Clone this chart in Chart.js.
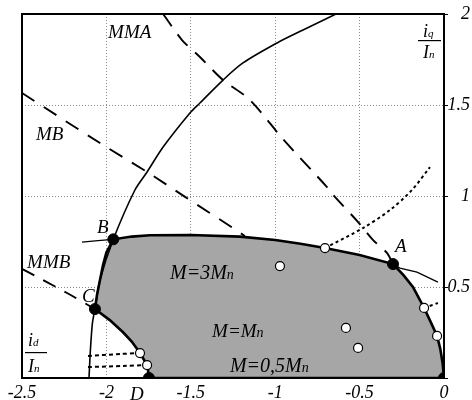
<!DOCTYPE html>
<html>
<head>
<meta charset="utf-8">
<script src="https://cdn.jsdelivr.net/npm/chart.js@4/dist/chart.umd.min.js"></script>
<style>
  html, body { margin: 0; padding: 0; background: #fff; }
  #wrap { width: 472px; height: 400px; }
</style>
</head>
<body>
<div id="wrap"><canvas id="chart"></canvas></div>
<script>
// x ticks (id / In) and y ticks (iq / In)
const xTicks = [-2.5, -2, -1.5, -1, -0.5, 0];
const yTicks = [0.5, 1, 1.5, 2];

// operating region boundary D -> C -> B -> A -> 0 -> D
const regionEdge = [
  [-1.748, 0], [-1.752, 0.035], [-1.759, 0.071], [-1.801, 0.137], [-1.85, 0.20], [-1.90, 0.25],
  [-1.98, 0.318], [-2.068, 0.379],
  [-2.055, 0.46], [-2.038, 0.538], [-2.02, 0.62], [-2.00, 0.69], [-1.959, 0.762],
  [-1.85, 0.777], [-1.742, 0.784], [-1.50, 0.786], [-1.209, 0.777], [-1.0, 0.758],
  [-0.85, 0.738], [-0.705, 0.714], [-0.5, 0.676], [-0.302, 0.626],
  [-0.24, 0.565], [-0.184, 0.50], [-0.118, 0.385], [-0.075, 0.30], [-0.041, 0.231],
  [-0.022, 0.16], [-0.008, 0.08], [0, 0],
  [-1.748, 0]
];
// voltage limit (solid thin)
const voltageLimit = [
  [-2.103, 0], [-2.095, 0.15], [-2.083, 0.30], [-2.068, 0.379], [-2.038, 0.538],
  [-1.959, 0.762], [-1.831, 1.033], [-1.759, 1.132], [-1.664, 1.269], [-1.505, 1.456],
  [-1.446, 1.511], [-1.309, 1.637], [-1.191, 1.731], [-0.989, 1.841], [-0.835, 1.912],
  [-0.640, 2.0]
];
const torqueLeftB = [[-2.145, 0.747], [-2.05, 0.755], [-1.959, 0.762]];
const torqueRightA = [[-0.302, 0.626], [-0.261, 0.604], [-0.160, 0.582], [-0.036, 0.527]];
const curveMMA = [
  [-1.664, 2.0], [-1.552, 1.857], [-1.446, 1.764], [-1.309, 1.637], [-1.149, 1.527],
  [-0.954, 1.313], [-0.693, 1.049], [-0.656, 1.005], [-0.509, 0.857], [-0.42, 0.758],
  [-0.338, 0.687], [-0.302, 0.626]
];
const curveMB = [
  [-2.5, 1.566], [-2.038, 1.291], [-1.759, 1.132], [-1.534, 0.995], [-1.25, 0.824],
  [-1.18, 0.78]
];
const curveMMB = [[-2.5, 0.60], [-2.233, 0.467], [-2.068, 0.379]];
const dottedUpper = [[-0.705, 0.714], [-0.48, 0.824], [-0.32, 0.923], [-0.19, 1.033], [-0.083, 1.159]];
const dottedRight = [[-0.118, 0.385], [-0.036, 0.412]];
const dashedLowA = [[-2.109, 0.121], [-1.919, 0.132], [-1.801, 0.137]];
const dashedLowB = [[-2.109, 0.060], [-1.90, 0.066], [-1.759, 0.071]];
// marked points
const blackPoints = [[-1.959, 0.762], [-2.068, 0.379], [-0.302, 0.626], [-1.748, 0], [0, 0]];
const whitePoints = [
  [-0.972, 0.615], [-0.581, 0.275], [-0.509, 0.165], [-0.705, 0.714],
  [-0.118, 0.385], [-0.041, 0.231], [-1.801, 0.137], [-1.759, 0.071]
];

const pts = a => a.map(p => ({ x: p[0], y: p[1] }));
const serif = "'Liberation Serif', 'Times New Roman', serif";

function line(data, width, dash, tension) {
  return {
    data: pts(data), showLine: true, fill: false, pointRadius: 0,
    borderColor: '#000', borderWidth: width, borderDash: dash || [],
    tension: tension === undefined ? 0.3 : tension, order: 2
  };
}

// text labels on the plot
const labelsPlugin = {
  id: 'labels',
  afterDatasetsDraw(chart) {
    const c = chart.ctx, xs = chart.scales.x, ys = chart.scales.y;
    c.save();
    c.fillStyle = '#000';
    c.textBaseline = 'alphabetic';
    function txt(s, x, y, size) {
      c.font = 'italic ' + (size || 19) + 'px ' + serif;
      c.fillText(s, x, y);
      return c.measureText(s).width;
    }
    function sub(main, s, x, y, size, subSize) {
      const w = txt(main, x, y, size);
      txt(s, x + w, y, subSize || 14);
    }
    const X = v => xs.getPixelForValue(v), Y = v => ys.getPixelForValue(v);
    txt('MMA', X(-1.99), Y(1.868));
    txt('MB', X(-2.417), Y(1.308));
    txt('MMB', X(-2.47), Y(0.604));
    txt('B', X(-2.056), Y(0.797));
    txt('C', X(-2.145), Y(0.418));
    txt('A', X(-0.29), Y(0.692));
    txt('D', X(-1.86), Y(-0.12));
    sub('M=3M', 'n', X(-1.623), Y(0.544), 20);
    sub('M=M', 'n', X(-1.374), Y(0.225), 19);
    sub('M=0,5M', 'n', X(-1.268), Y(0.033), 20);
    // iq / In
    sub('i', 'q', 423, 37, 18, 11);
    c.fillRect(418, 40, 23, 1.2);
    sub('I', 'n', 423, 58, 18, 11);
    // id / In
    sub('i', 'd', 28, 346, 18, 11);
    c.fillRect(25, 352, 22, 1.2);
    sub('I', 'n', 28, 372, 18, 11);
    c.restore();
  }
};

// plot frame
const framePlugin = {
  id: 'frame',
  beforeDatasetsDraw(chart) {
    const a = chart.chartArea, c = chart.ctx;
    c.save();
    c.strokeStyle = '#000';
    c.lineWidth = 2;
    c.strokeRect(a.left, a.top, a.right - a.left, a.bottom - a.top);
    c.restore();
  }
};

new Chart(document.getElementById('chart'), {
  type: 'scatter',
  data: {
    datasets: [
      {
        data: pts(regionEdge), showLine: true, fill: 'shape',
        backgroundColor: '#a6a6a6', borderColor: '#000', borderWidth: 2.6,
        pointRadius: 0, tension: 0, order: 3
      },
      line(voltageLimit, 1.6),
      line(torqueLeftB, 1.3, [], 0),
      line(torqueRightA, 1.3, [], 0),
      line(curveMMA, 1.9, [15, 10]),
      line(curveMB, 1.9, [15, 11]),
      line(curveMMB, 1.9, [14, 10]),
      line(dottedUpper, 2, [3, 3]),
      line(dottedRight, 2, [3, 3]),
      line(dashedLowA, 2, [4, 3]),
      line(dashedLowB, 2, [4, 3]),
      {
        data: pts(whitePoints), pointRadius: 4.5, pointBackgroundColor: '#fff',
        pointBorderColor: '#000', pointBorderWidth: 1.2, order: 1
      },
      {
        data: pts(blackPoints), pointRadius: 5.5, pointBackgroundColor: '#000',
        pointBorderColor: '#000', order: 0
      }
    ]
  },
  options: {
    responsive: true,
    maintainAspectRatio: false,
    animation: false,
    layout: { padding: { left: 22, right: 2, top: 14, bottom: 0 } },
    plugins: { legend: { display: false }, tooltip: { enabled: false } },
    scales: {
      x: {
        type: 'linear', position: 'bottom', min: -2.5, max: 0,
        afterBuildTicks: s => { s.ticks = xTicks.map(v => ({ value: v })); },
        afterFit: s => { s.height = 22; },
        border: { display: false, dash: [1, 2] },
        grid: {
          color: ctx => (ctx.tick && (ctx.tick.value === -2.5 || ctx.tick.value === 0)) ? 'rgba(0,0,0,0)' : '#8a8a8a',
          lineWidth: 1, drawTicks: false
        },
        ticks: {
          color: '#000', padding: 4, maxRotation: 0, autoSkip: false,
          font: { family: serif, size: 18, style: 'italic' },
          callback: v => String(v)
        }
      },
      y: {
        type: 'linear', position: 'right', min: 0, max: 2,
        afterBuildTicks: s => { s.ticks = [0].concat(yTicks).map(v => ({ value: v })); },
        afterFit: s => { s.width = 26; },
        border: { display: false, dash: [1, 2] },
        grid: {
          color: ctx => (ctx.tick && (ctx.tick.value === 0 || ctx.tick.value === 2)) ? 'rgba(0,0,0,0)' : '#8a8a8a',
          lineWidth: 1, drawTicks: true, tickLength: 4,
          tickColor: '#000', tickBorderDash: []
        },
        ticks: {
          color: '#000', padding: 2, crossAlign: 'far', autoSkip: false,
          font: { family: serif, size: 18, style: 'italic' },
          callback: v => v === 0 ? '' : String(v)
        }
      }
    }
  },
  plugins: [framePlugin, labelsPlugin]
});
</script>
</body>
</html>
